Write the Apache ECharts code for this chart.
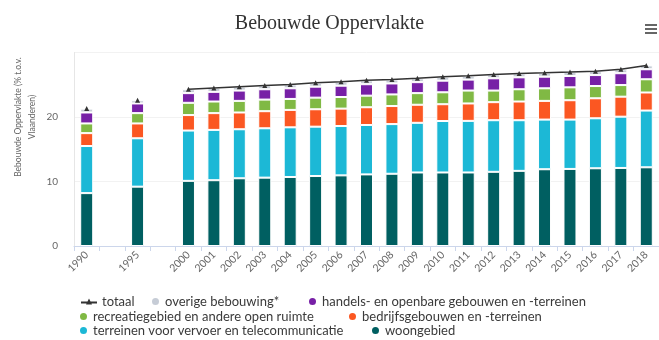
<!DOCTYPE html>
<html><head><meta charset="utf-8">
<script src="https://cdn.jsdelivr.net/npm/echarts@6/dist/echarts.min.js"></script>
<style>html,body{margin:0;padding:0;background:#fff}#c{width:659px;height:340px}</style>
</head><body><div id="c"></div>
<script>
const categories = ['1990','','1995','','2000','2001','2002','2003','2004','2005','2006','2007','2008','2009','2010','2011','2012','2013','2014','2015','2016','2017','2018'];
const woongebied = [8.2,null,9.2,null,10.1,10.2,10.5,10.6,10.7,10.85,10.95,11.1,11.2,11.4,11.4,11.4,11.5,11.65,11.9,11.95,12.05,12.1,12.2];
const vervoer = [7.3,null,7.5,null,7.8,7.8,7.6,7.65,7.7,7.65,7.65,7.66,7.7,7.7,7.98,8.0,8.0,7.85,7.7,7.65,7.75,7.95,8.8];
const bedrijf = [2.0,null,2.3,null,2.4,2.6,2.6,2.65,2.7,2.7,2.7,2.75,2.8,2.8,2.6,2.7,2.8,2.9,2.9,3.0,3.1,3.1,2.8];
const recreatie = [1.5,null,1.6,null,1.9,1.8,1.8,1.8,1.7,1.8,1.8,1.8,1.8,1.8,1.85,2.0,1.8,1.9,1.95,2.0,1.9,1.8,2.05];
const handel = [1.7,null,1.5,null,1.5,1.5,1.6,1.6,1.65,1.7,1.75,1.77,1.7,1.7,1.8,1.7,1.9,1.85,1.8,1.76,1.7,1.84,1.55];
const overige = [0.6,null,0.5,null,0.6,0.6,0.6,0.6,0.6,0.6,0.6,0.6,0.6,0.6,0.6,0.6,0.6,0.6,0.6,0.6,0.6,0.6,0.6];
const totaal = [21.3,null,22.6,null,24.3,24.5,24.7,24.9,25.05,25.3,25.45,25.68,25.8,26.0,26.23,26.4,26.6,26.75,26.85,26.96,27.1,27.39,28.0];
const yTicks = [0,10,20,30];
const seriesNames = ['totaal','overige bebouwing*','handels- en openbare gebouwen en -terreinen','recreatiegebied en andere open ruimte','bedrijfsgebouwen en -terreinen','terreinen voor vervoer en telecommunicatie','woongebied'];

const chart = echarts.init(document.getElementById('c'));
const font = 'Lato, "Open Sans", sans-serif';
function bar(name, data, color){
  return {name, type:'bar', stack:'s', data, barWidth:13,
    itemStyle:{color, borderColor:'#fff', borderWidth:1}, emphasis:{disabled:true}};
}
const legendPos = [[81,295],[150,295],[307,295],[78,310],[347,310],[78,324],[370,324]];
const legends = seriesNames.map((n,i)=>({
  left:legendPos[i][0], top:legendPos[i][1], padding:0, itemGap:0,
  itemWidth: i===0?16:9, itemHeight: 9,
  textStyle:{fontFamily:font, fontSize:13, color:'#3a3a3a'},
  data:[ i===0 ? {name:n, icon:'path://M0,7L16,7L16,9L0,9Z M8,4 L11,10 L5,10Z'} : {name:n, icon:'circle'} ]
}));
chart.setOption({
  animation:false,
  title:{text:'Bebouwde Oppervlakte', left:'center', top:9,
    textStyle:{fontFamily:'"Liberation Serif", serif', fontSize:20, fontWeight:'normal', color:'#333'}},
  grid:{left:74, top:52.5, width:590, bottom:94, containLabel:false},
  legend:legends,
  xAxis:{type:'category', data:categories,
    axisLine:{lineStyle:{color:'#ccd6eb'}},
    axisTick:{show:true, lineStyle:{color:'#ccd6eb'}},
    axisLabel:{rotate:45, fontSize:10.5, color:'#666', fontFamily:font, interval:0, margin:7}},
  yAxis:{type:'value', min:yTicks[0], max:yTicks[3], interval:10,
    axisLine:{show:true, lineStyle:{color:'#e6e6e6'}},
    axisLabel:{fontSize:10, color:'#666', fontFamily:font, showMaxLabel:false, margin:16},
    splitLine:{lineStyle:{color:'#f2f2f2'}}},
  series:[
    {name:'totaal', type:'line', data:totaal, connectNulls:false, z:5,
      lineStyle:{color:'#333', width:1.5}, itemStyle:{color:'#333'},
      symbol:'triangle', symbolSize:5, showAllSymbol:true},
    bar('woongebied', woongebied, '#005f61'),
    bar('terreinen voor vervoer en telecommunicatie', vervoer, '#1cb8d6'),
    bar('bedrijfsgebouwen en -terreinen', bedrijf, '#fb5722'),
    bar('recreatiegebied en andere open ruimte', recreatie, '#80b944'),
    bar('handels- en openbare gebouwen en -terreinen', handel, '#7720a6'),
    bar('overige bebouwing*', overige, '#c6ccd6')
  ],
  graphic:[
    {type:'text', x:25, y:117, rotation:Math.PI/2,
      style:{text:'Bebouwde Oppervlakte (% t.o.v.\nVlaanderen)', fontSize:8.5, fontFamily:font, fill:'#666',
        align:'center', verticalAlign:'middle', lineHeight:14}},
    {type:'rect', shape:{x:645, y:24, width:12, height:2}, style:{fill:'#666'}},
    {type:'rect', shape:{x:645, y:28, width:12, height:2}, style:{fill:'#666'}},
    {type:'rect', shape:{x:645, y:32, width:12, height:2}, style:{fill:'#666'}}
  ]
});
</script></body></html>
